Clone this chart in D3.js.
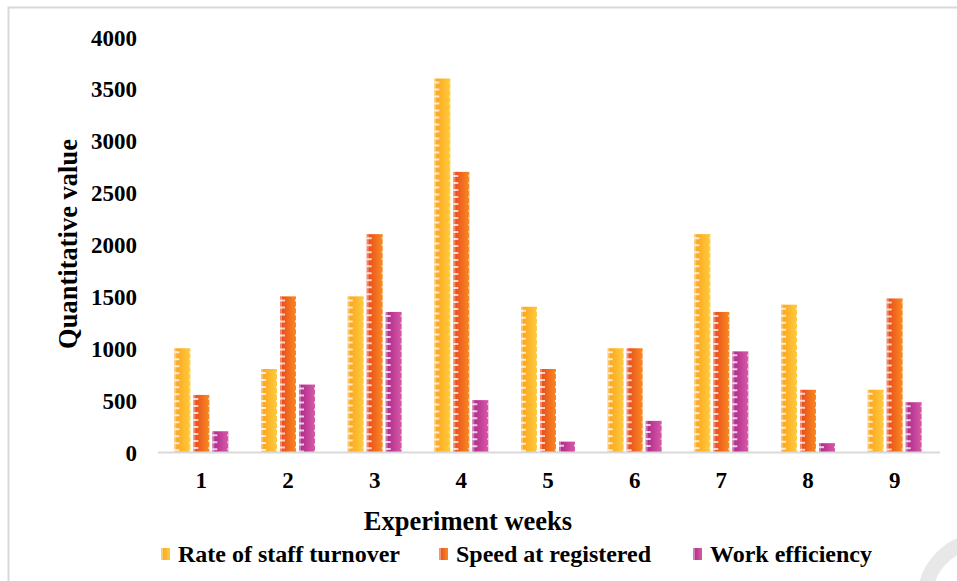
<!DOCTYPE html>
<html><head><meta charset="utf-8">
<script src="https://cdn.jsdelivr.net/npm/d3@7"></script>
<style>html,body{margin:0;padding:0;background:#fff;}svg{display:block;}</style>
</head><body>
<script>
const weeks = ["1","2","3","4","5","6","7","8","9"];
const seriesNames = ["Rate of staff turnover","Speed at registered","Work efficiency"];
const turnover = [1000, 800, 1500, 3600, 1400, 1000, 2100, 1420, 600];
const speed = [550, 1500, 2100, 2700, 800, 1000, 1350, 600, 1480];
const efficiency = [200, 650, 1350, 500, 100, 300, 970, 85, 480];
const yTicks = [0, 500, 1000, 1500, 2000, 2500, 3000, 3500, 4000];
const seriesColors = [["#fba11b", "#ffcb3d"], ["#e8461d", "#f88a20"], ["#ad2687", "#d65aa8"]];

const W = 957, H = 581;
const svg = d3.select("body").append("svg").attr("width", W).attr("height", H);
const font = "'Liberation Serif','Times New Roman',serif";

// frame
svg.append("rect").attr("x", 8.5).attr("y", 7.5).attr("width", 980).attr("height", 600)
  .attr("fill", "none").attr("stroke", "#d9d9d9").attr("stroke-width", 2);
// corner arc decoration
svg.append("circle").attr("cx", 982).attr("cy", 598).attr("r", 57)
  .attr("fill", "none").attr("stroke", "#e8e8e8").attr("stroke-width", 15);

const defs = svg.append("defs");
seriesColors.forEach((c, i) => {
  const g = defs.append("linearGradient").attr("id", "g" + i).attr("x1", "0").attr("x2", "1").attr("y1", "0").attr("y2", "0");
  g.append("stop").attr("offset", "0").attr("stop-color", c[0]);
  g.append("stop").attr("offset", "1").attr("stop-color", c[1]);
});

const x0 = d3.scaleBand().domain(weeks).range([158, 938]).padding(0);
const x1 = d3.scaleBand().domain(seriesNames).range([0, 54]).paddingInner(0.158).paddingOuter(0);
const y = d3.scaleLinear().domain([0, 4000]).range([452, 37]);

const data = [turnover, speed, efficiency];

// bars
weeks.forEach((w, wi) => {
  const gx = x0(w) + x0.bandwidth() / 2 - 27;
  seriesNames.forEach((s, si) => {
    const v = data[si][wi];
    const bx = gx + x1(s), bw = x1.bandwidth();
    const top = y(v), h = y(0) - y(v);
    const g = svg.append("g");
    g.append("rect").attr("x", bx).attr("y", top).attr("width", bw).attr("height", h)
      .attr("fill", `url(#g${si})`);
    g.append("rect").attr("x", bx).attr("y", top).attr("width", 2).attr("height", h)
      .attr("fill", "#fff").attr("opacity", 0.35);
    g.append("line").attr("x1", bx + 2.5).attr("x2", bx + 2.5).attr("y1", top + 3).attr("y2", y(0))
      .attr("stroke", "#fff").attr("stroke-width", 5).attr("stroke-dasharray", "2,5").attr("opacity", 0.75);
    g.append("line").attr("x1", bx + bw - 0.5).attr("x2", bx + bw - 0.5).attr("y1", top + 3).attr("y2", y(0))
      .attr("stroke", "#fff").attr("stroke-width", 1).attr("stroke-dasharray", "2,5").attr("opacity", 0.8);
  });
});

// baseline
svg.append("line").attr("x1", 158).attr("x2", 940).attr("y1", y(0) + 0.5).attr("y2", y(0) + 0.5)
  .attr("stroke", "#d9d9d9").attr("stroke-width", 2);

// y axis labels
const yAxis = d3.axisLeft(y).tickValues(yTicks).tickFormat(d3.format("d")).tickSize(0).tickPadding(0);
const ya = svg.append("g").attr("transform", "translate(137,0)").call(yAxis);
ya.select(".domain").remove();
ya.selectAll("text").attr("font-family", font).attr("font-weight", "bold").attr("font-size", 23)
  .attr("fill", "#000").attr("dy", "0.35em");

// x axis labels
const xAxis = d3.axisBottom(x0).tickSize(0).tickPadding(0);
const xa = svg.append("g").attr("transform", "translate(0,472)").call(xAxis);
xa.select(".domain").remove();
xa.selectAll("text").attr("font-family", font).attr("font-weight", "bold").attr("font-size", 23)
  .attr("fill", "#000").attr("dy", "0.35em").attr("y", 8);

// titles
svg.append("text").attr("x", 468).attr("y", 530).attr("text-anchor", "middle")
  .attr("font-family", font).attr("font-weight", "bold").attr("font-size", 26.5).text("Experiment weeks");
svg.append("text").attr("transform", "translate(77,244) rotate(-90)").attr("text-anchor", "middle")
  .attr("font-family", font).attr("font-weight", "bold").attr("font-size", 26.5).text("Quantitative value");

// legend
const legX = [161, 439, 693];
seriesNames.forEach((s, i) => {
  const g = svg.append("g").attr("transform", `translate(${legX[i]},554)`);
  g.append("rect").attr("x", 0).attr("y", -6).attr("width", 9).attr("height", 12).attr("fill", `url(#g${i})`);
  g.append("rect").attr("x", 0).attr("y", -6).attr("width", 2).attr("height", 12).attr("fill", "#fff").attr("opacity", 0.4);
  g.append("text").attr("x", 17).attr("y", 0).attr("dy", "0.35em").attr("font-family", font)
    .attr("font-weight", "bold").attr("font-size", 24).text(s);
});
</script>
</body></html>
